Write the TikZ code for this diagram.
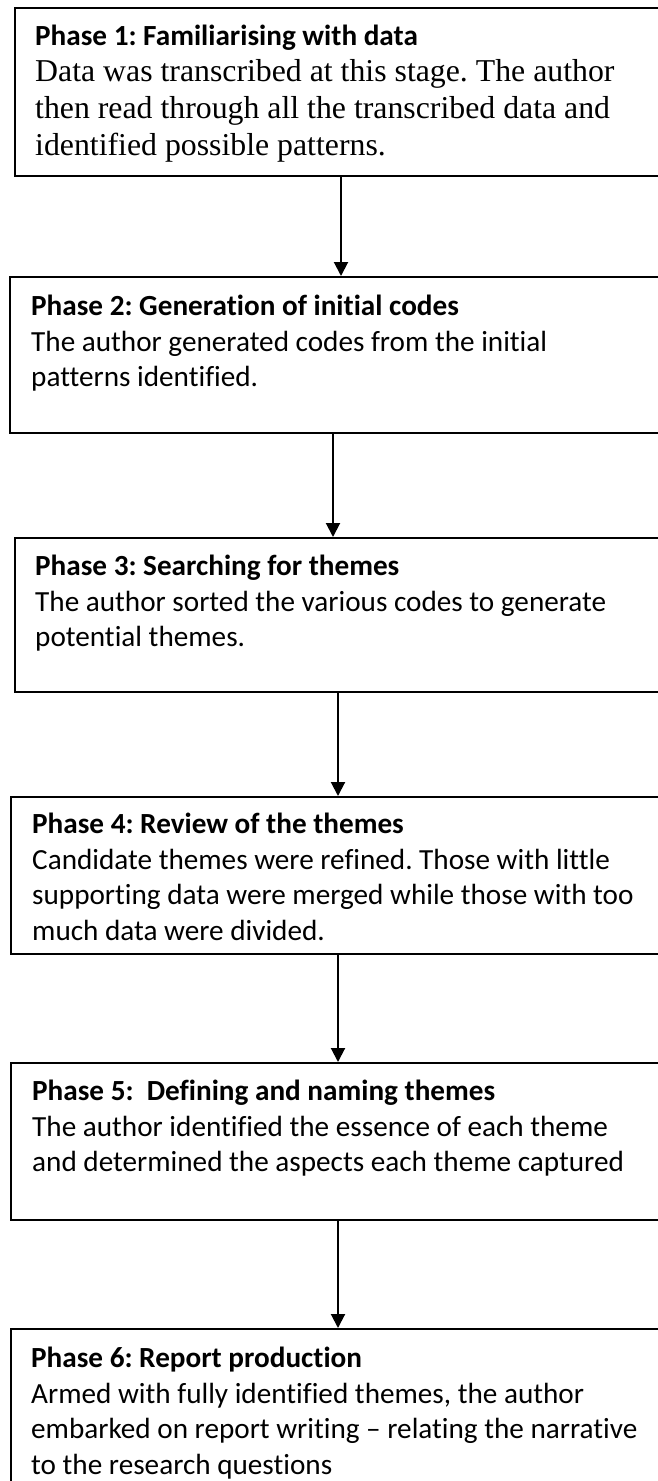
\documentclass[tikz,border=0pt]{standalone}
\usepackage{fontspec}
\setmainfont{Liberation Serif}
\newfontfamily\calfont[Ligatures={NoCommon,TeX}]{Carlito}
\usetikzlibrary{arrows.meta}
\frenchspacing
\begin{document}
\begin{tikzpicture}[x=1pt,y=-1pt,
  phasebox/.style={draw, line width=2pt, rectangle, anchor=north west, inner sep=0pt, minimum width=700pt},
  caltext/.style={anchor=north west, inner sep=0pt, align=left, font=\calfont\fontsize{29.2}{35.8}\selectfont},
  sertext/.style={anchor=north west, inner sep=0pt, align=left, font=\fontsize{31.8}{36.7}\selectfont},
  flow/.style={line width=2pt, -{Triangle[width=14pt,length=14pt]}}]
\useasboundingbox (0,0) rectangle (658,1481);
\fill[white] (0,0) rectangle (658,1481);
\clip (0,0) rectangle (658,1481);
% boxes
\node[phasebox, minimum height=168pt] (b1) at (14,7) {};
\node[phasebox, minimum height=156pt] (b2) at (9,276) {};
\node[phasebox, minimum height=154pt] (b3) at (14,537) {};
\node[phasebox, minimum height=157pt] (b4) at (10,796) {};
\node[phasebox, minimum height=157pt] (b5) at (10,1062) {};
\node[phasebox, minimum height=220pt] (b6) at (10,1328) {};
% texts
\node[sertext] (t1) at (35,19.3) {{\calfont\bfseries\fontsize{29.2}{36.7}\selectfont\strut Phase 1: Familiarising with data}\\Data was transcribed at this stage. The author\\then read through all the transcribed data and\\identified possible patterns.};
\node[caltext] (t2) at (31,290) {\strut\textbf{Phase 2: Generation of initial codes}\\The author generated codes from the initial\\patterns identified.};
\node[caltext] (t3) at (35,550) {\strut\textbf{Phase 3: Searching for themes}\\The author sorted the various codes to generate\\potential themes.};
\node[caltext] (t4) at (32,808) {\strut\textbf{Phase 4: Review of the themes}\\Candidate themes were refined. Those with little\\supporting data were merged while those with too\\much data were divided.};
\node[caltext] (t5) at (32,1075) {\strut\textbf{Phase 5: \ Defining and naming themes}\\The author identified the essence of each theme\\and determined the aspects each theme captured};
\node[caltext] (t6) at (31,1342) {\strut\textbf{Phase 6: Report production}\\Armed with fully identified themes, the author\\embarked on report writing – relating the narrative\\to the research questions};
% arrows
\coordinate (ax1) at (341,0);
\coordinate (ax2) at (333,0);
\coordinate (ax3) at (338,0);
\draw[flow] (b1.south -| ax1) -- (b2.north -| ax1);
\draw[flow] (b2.south -| ax2) -- (b3.north -| ax2);
\draw[flow] (b3.south -| ax3) -- (b4.north -| ax3);
\draw[flow] (b4.south -| ax3) -- (b5.north -| ax3);
\draw[flow] (b5.south -| ax3) -- (b6.north -| ax3);
\end{tikzpicture}
\end{document}
